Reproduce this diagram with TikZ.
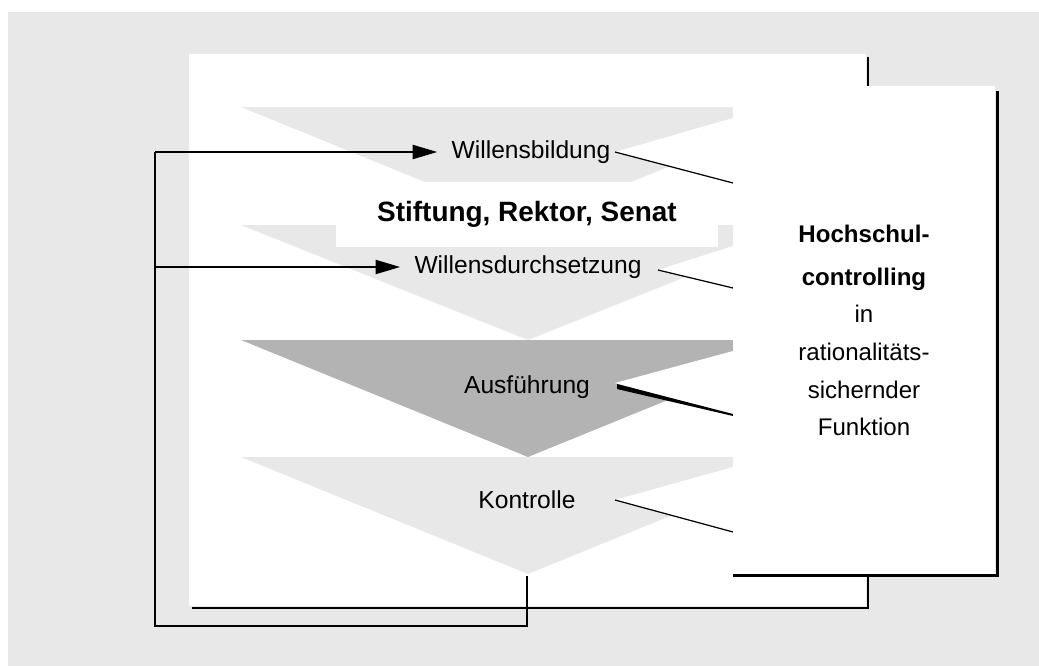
\documentclass[tikz,border=0pt]{standalone}
\usepackage{fontspec}
\setmainfont{Liberation Sans}
\usetikzlibrary{arrows.meta}
\definecolor{hellgrau}{HTML}{E8E8E8}
\definecolor{dunkelgrau}{HTML}{B3B3B3}

\begin{document}
\begin{tikzpicture}[x=0.02cm,y=-0.02cm,
  schatten/.style={line width=1.7pt},
  keil/.style={fill=white,draw=none},
  zeiger/.style={line width=0.7pt},
  rueck/.style={line width=1.1pt},
  pfeil/.style={rueck,-{Triangle[length=14pt,width=8pt]},shorten >=4pt},
  stufe/.style={font=\fontsize{14}{17}\selectfont,inner sep=4pt},
  organ/.style={fill=white,inner sep=0pt,minimum width=7.64cm,minimum height=1.3cm,font=\bfseries\fontsize{15.9}{19}\selectfont},
  kasten/.style={fill=white,inner sep=0pt,minimum width=5.24cm,minimum height=9.78cm,align=center,font=\fontsize{13.7}{21.4}\selectfont}]

  \useasboundingbox[fill=white] (0,0) rectangle (1039,666);
  \fill[hellgrau] (8,12) rectangle (1039,666);

  % hinteres Blatt
  \fill[white] (189,54) rectangle (866,606);
  \draw[schatten] (868,57) -- (868,608) -- (192,608);

  % Stufen
  \fill[hellgrau] (241,107) -- (815,107) -- (528,224) -- cycle;
  \fill[hellgrau] (241,225) -- (815,225) -- (528,340) -- cycle;
  \fill[dunkelgrau] (241,340) -- (815,340) -- (528,457) -- cycle;
  \fill[hellgrau] (241,457) -- (815,457) -- (528,574) -- cycle;

  \node[organ] (organe) at (527,214.5) {Stiftung, Rektor, Senat};

  % Zeiger zum Controlling
  \coordinate (k1) at (615,152);
  \coordinate (k2) at (658,270);
  \coordinate (k3) at (615,383);
  \coordinate (k4) at (615,500);
  \fill[keil] (k1) -- (733,118) -- (733,183) -- cycle;
  \fill[keil] (k2) -- (733,246) -- (733,288) -- cycle;
  \fill[keil] (k3) -- (733,351) -- (733,415) -- cycle;
  \fill[keil] (k4) -- (733,467) -- (733,532) -- cycle;
  \draw[zeiger] (k1) -- (733,183);
  \draw[zeiger] (k2) -- (733,288);
  \fill (617,384) -- (733,414) -- (733,416) -- (617,389) -- cycle;
  \draw[zeiger] (k4) -- (733,532);

  \node[kasten] (controlling) at (864,330.5)
    {\textbf{Hochschul-}\\[3pt]\textbf{controlling}\\in\\rationalitäts-\\sichernder\\Funktion};
  \draw[schatten] ([yshift=-3pt]controlling.north east) ++(1.5pt,0) |- (controlling.south west);

  % Stufenbeschriftungen
  \node[stufe] (bildung) at (531,152) {Willensbildung};
  \node[stufe] (durchsetzung) at (528,267) {Willensdurchsetzung};
  \node[stufe] (ausfuehrung) at (527,387) {Ausführung};
  \node[stufe] (kontrolle) at (527,500) {Kontrolle};

  % Rueckkopplung
  \coordinate (r1) at (155,152);
  \coordinate (r2) at (155,267);
  \coordinate (r3) at (155,626);
  \coordinate (r4) at (527,626);
  \coordinate (r5) at (527,576);
  \draw[rueck] (r5) -- (r4) -- (r3) -- (r1);
  \draw[pfeil] (r1) -- (bildung);
  \draw[pfeil] (r2) -- (durchsetzung);
\end{tikzpicture}
\end{document}
